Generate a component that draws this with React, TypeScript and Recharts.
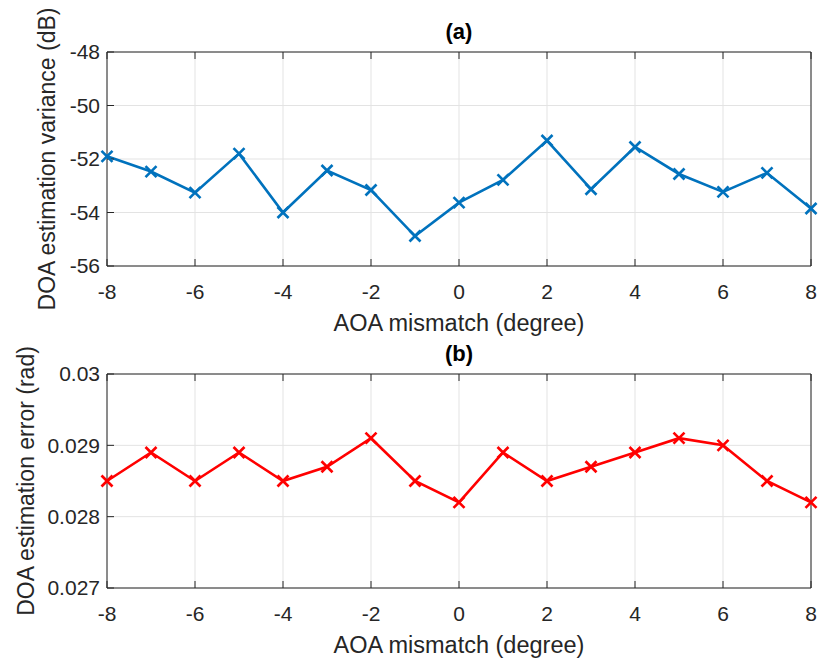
import { CartesianGrid, Line, LineChart, XAxis, YAxis } from "recharts";

const angles = [-8, -7, -6, -5, -4, -3, -2, -1, 0, 1, 2, 3, 4, 5, 6, 7, 8];
const varianceDb = [
  -51.9, -52.47, -53.26, -51.8, -54.0, -52.43, -53.16, -54.88, -53.63, -52.78, -51.31, -53.13, -51.55,
  -52.56, -53.23, -52.52, -53.85,
];
const errorRad = [
  0.0285, 0.0289, 0.0285, 0.0289, 0.0285, 0.0287, 0.0291, 0.0285, 0.0282, 0.0289, 0.0285, 0.0287, 0.0289,
  0.0291, 0.029, 0.0285, 0.0282,
];
const angleTicks = [-8, -6, -4, -2, 0, 2, 4, 6, 8];
const varianceTicks = [-56, -54, -52, -50, -48];
const errorTicks = [0.027, 0.028, 0.029, 0.03];

const FONT = '"Liberation Sans", Arial, Helvetica, sans-serif';
const INK = "#262626";
const W = 818;
const H = 340;

function Cross(props: any) {
  const { cx, cy, stroke } = props;
  if (cx == null || cy == null) return null;
  const r = 5.5;
  return (
    <g>
      <line x1={cx - r} y1={cy - r} x2={cx + r} y2={cy + r} stroke={stroke} strokeWidth={2.6} />
      <line x1={cx - r} y1={cy + r} x2={cx + r} y2={cy - r} stroke={stroke} strokeWidth={2.6} />
    </g>
  );
}

function YTitle({ text, baseX }: { text: string; baseX: number }) {
  return (
    <text
      transform={`translate(${baseX}, 159) rotate(-90)`}
      textAnchor="middle"
      fontSize={23}
      fill={INK}
      fontFamily={FONT}
    >
      {text}
    </text>
  );
}

function Panel({
  title,
  yTitle,
  yTitleX,
  values,
  domain,
  yTicks,
  color,
}: {
  title: string;
  yTitle: string;
  yTitleX: number;
  values: number[];
  domain: [number, number];
  yTicks: number[];
  color: string;
}) {
  const data = angles.map((a, i) => ({ angle: a, value: values[i] }));
  const tick = { fill: INK, fontSize: 21, fontFamily: FONT };
  return (
    <LineChart width={W} height={H} data={data} margin={{ top: 51, right: 6, bottom: 0, left: 47 }}>
      <CartesianGrid stroke="#e3e3e3" />
      <XAxis
        dataKey="angle"
        type="number"
        domain={[-8, 8]}
        ticks={angleTicks}
        height={74}
        tickSize={-7}
        tickMargin={25}
        tick={tick}
        stroke={INK}
        label={{
          value: "AOA mismatch (degree)",
          position: "insideBottom",
          offset: 9,
          fill: INK,
          fontSize: 23.5,
          fontFamily: FONT,
        }}
      />
      <XAxis
        xAxisId="top"
        orientation="top"
        dataKey="angle"
        type="number"
        domain={[-8, 8]}
        ticks={angleTicks}
        height={1}
        tickSize={-7}
        tickFormatter={() => ""}
        stroke={INK}
        label={{
          value: title,
          position: "top",
          offset: 12,
          fill: "#000",
          fontSize: 22,
          fontWeight: "bold",
          fontFamily: FONT,
        }}
      />
      <YAxis
        type="number"
        domain={domain}
        ticks={yTicks}
        width={60}
        tickSize={-7}
        tickMargin={14}
        tick={tick}
        stroke={INK}
      />
      <YAxis
        yAxisId="right"
        orientation="right"
        type="number"
        domain={domain}
        ticks={yTicks}
        width={1}
        tickSize={-7}
        tickFormatter={() => ""}
        stroke={INK}
      />
      <Line
        dataKey="value"
        stroke={color}
        strokeWidth={2.6}
        dot={(p: any) => <Cross key={p.index} {...p} />}
        activeDot={false}
        isAnimationActive={false}
      />
      <YTitle text={yTitle} baseX={yTitleX} />
    </LineChart>
  );
}

export default function App() {
  return (
    <div style={{ position: "absolute", left: 0, top: 0, width: W, height: 662, background: "#fff", overflow: "hidden" }}>
      <div style={{ position: "absolute", left: 0, top: 0 }}>
        <Panel
          title="(a)"
          yTitle="DOA estimation variance (dB)"
          yTitleX={55}
          values={varianceDb}
          domain={[-56, -48]}
          yTicks={varianceTicks}
          color="#0072BD"
        />
      </div>
      <div style={{ position: "absolute", left: 0, top: 322 }}>
        <Panel
          title="(b)"
          yTitle="DOA estimation error (rad)"
          yTitleX={34}
          values={errorRad}
          domain={[0.027, 0.03]}
          yTicks={errorTicks}
          color="#FF0000"
        />
      </div>
    </div>
  );
}
